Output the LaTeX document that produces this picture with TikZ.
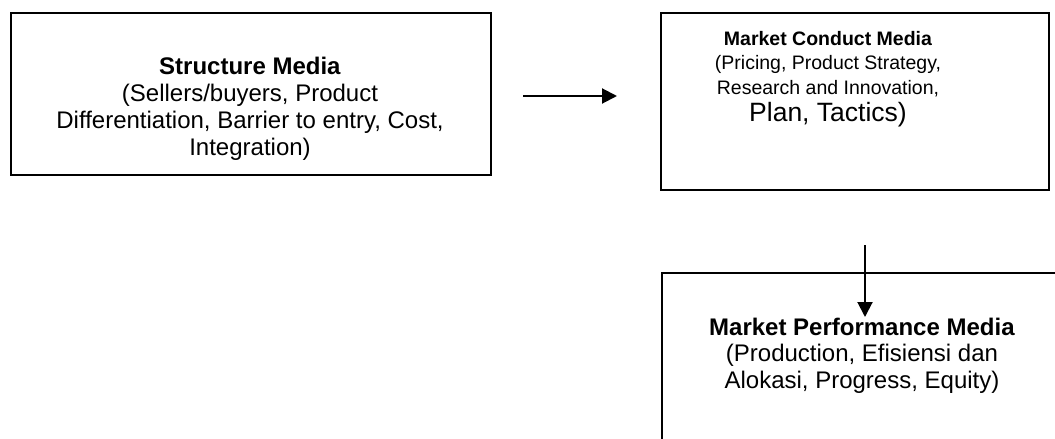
\documentclass[tikz,border=0pt]{standalone}
\usepackage{fontspec}
\setmainfont{Liberation Sans}
\usetikzlibrary{arrows.meta}
\begin{document}
\begin{tikzpicture}[x=1pt,y=-1pt,
  frame/.style={draw=black, line width=2pt, inner sep=0pt, anchor=north west},
  boxtext/.style={align=center, inner sep=0pt, anchor=base},
  flow/.style={-{Triangle[length=15pt,width=15pt]}, line width=2pt}]
\useasboundingbox (0,0) rectangle (1055,439);
\clip (0,0) rectangle (1055,439);

% the three boxes
\node[frame, minimum width=480.5pt, minimum height=162.5pt] (structure) at (9.5,11.5) {};
\node[frame, minimum width=388pt, minimum height=177.5pt] (conduct) at (660,11.5) {};
\node[frame, minimum width=420pt, minimum height=200pt] (performance) at (661,272) {};

% box texts (anchored at the baseline of their last line)
\node[boxtext, font=\fontsize{24}{27}\selectfont] (structuretext) at (250,155)
  {\textbf{Structure Media}\\(Sellers/buyers, Product\\Differentiation, Barrier to entry, Cost,\\Integration)};
\node[boxtext, font=\fontsize{19.5}{24.5}\selectfont] (conducttext) at (828,121.5)
  {\textbf{Market Conduct Media}\\(Pricing, Product Strategy,\\Research and Innovation,\\[3pt]{\fontsize{26.5}{30}\selectfont Plan, Tactics)}};
\node[boxtext, font=\fontsize{24}{26.5}\selectfont] (performancetext) at (862,388)
  {\textbf{Market Performance Media}\\(Production, Efisiensi dan\\Alokasi, Progress, Equity)};

% connectors
\coordinate (h1) at (523,96);
\coordinate (h2) at (617,96);
\coordinate (v1) at (865,245);
\coordinate (v2) at (865,317);
\draw[flow] (h1) -- (h2);
\draw[flow] (v1) -- (v2);
\end{tikzpicture}
\end{document}
